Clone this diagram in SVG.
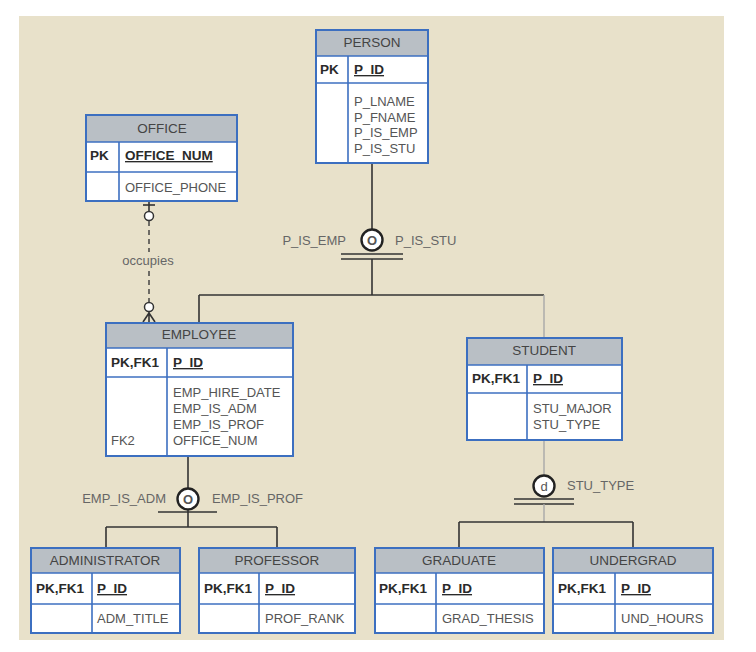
<svg xmlns="http://www.w3.org/2000/svg" width="756" height="652" viewBox="0 0 756 652">
<style>
.bg{fill:#e8e1ca}
.hdr{fill:#b9bfc5}
.body{fill:#ffffff}
.bd{fill:none;stroke:#3c6fc0;stroke-width:2}
.ln{fill:none;stroke:#3c6fc0;stroke-width:1.6}
text{font-family:"Liberation Sans",Arial,sans-serif;font-size:13px;fill:#555}
.ttl{fill:#444;text-anchor:middle;font-size:13.5px}
.k{font-weight:bold;fill:#2a2a2a;font-size:13.5px}
.u{text-decoration:underline}
.c{fill:none;stroke:#333;stroke-width:1.6}
.cl{fill:none;stroke:#a8a8a8;stroke-width:1.4}
.dash{fill:none;stroke:#444;stroke-width:1.5;stroke-dasharray:5 4}
.sym{fill:#fff;stroke:#222;stroke-width:2.4}
.lbl{fill:#666}
</style>
<rect class="bg" x="19" y="16" width="705" height="624"/>

<g id="connectors">
  <!-- OFFICE to EMPLOYEE -->
  <line class="c" x1="149" y1="201" x2="149" y2="211"/>
  <line class="c" x1="143" y1="205" x2="155" y2="205"/>
  <circle cx="149" cy="216" r="4.5" fill="#fff" stroke="#333" stroke-width="1.5"/>
  <line class="dash" x1="149" y1="221" x2="149" y2="252"/>
  <line class="dash" x1="149" y1="271" x2="149" y2="302"/>
  <text class="lbl" x="148" y="265" text-anchor="middle" font-size="11.5">occupies</text>
  <circle cx="149" cy="307" r="4.5" fill="#fff" stroke="#333" stroke-width="1.5"/>
  <path class="c" d="M149 312 L149 322 M149 313 L143 322 M149 313 L155 322"/>

  <!-- PERSON subtypes -->
  <line class="c" x1="372" y1="163" x2="372" y2="229"/>
  <circle class="sym" cx="372" cy="240" r="10.5"/>
  <text x="372" y="245" text-anchor="middle" font-size="14" font-weight="bold" fill="#222">O</text>
  <line class="c" x1="341" y1="254" x2="403" y2="254"/>
  <line class="c" x1="341" y1="259" x2="403" y2="259"/>
  <line class="c" x1="372" y1="259" x2="372" y2="295"/>
  <text class="lbl" x="346" y="245" text-anchor="end">P_IS_EMP</text>
  <text class="lbl" x="395" y="245">P_IS_STU</text>
  <line class="c" x1="199" y1="295" x2="544" y2="295"/>
  <line class="c" x1="199" y1="295" x2="199" y2="323"/>
  <line class="cl" x1="544" y1="295" x2="544" y2="338"/>

  <!-- EMPLOYEE subtypes -->
  <line class="c" x1="188" y1="456" x2="188" y2="488"/>
  <circle class="sym" cx="188" cy="499" r="10.5"/>
  <text x="188" y="504" text-anchor="middle" font-size="14" font-weight="bold" fill="#222">O</text>
  <line class="c" x1="158" y1="512" x2="217" y2="512"/>
  <line class="c" x1="188" y1="510" x2="188" y2="527"/>
  <line class="c" x1="106" y1="527" x2="277" y2="527"/>
  <line class="c" x1="106" y1="527" x2="106" y2="548"/>
  <line class="c" x1="277" y1="527" x2="277" y2="548"/>
  <text class="lbl" x="166" y="503" text-anchor="end">EMP_IS_ADM</text>
  <text class="lbl" x="212" y="503">EMP_IS_PROF</text>

  <!-- STUDENT subtypes -->
  <line class="cl" x1="544" y1="440" x2="544" y2="475"/>
  <circle class="sym" cx="544" cy="486" r="10.5"/>
  <text x="544" y="491" text-anchor="middle" font-size="14" fill="#222">d</text>
  <line class="c" x1="514" y1="499" x2="574" y2="499"/>
  <line class="c" x1="514" y1="504" x2="574" y2="504"/>
  <line class="cl" x1="544" y1="504" x2="544" y2="522"/>
  <line class="c" x1="459" y1="522" x2="633" y2="522"/>
  <line class="c" x1="459" y1="522" x2="459" y2="548"/>
  <line class="c" x1="633" y1="522" x2="633" y2="548"/>
  <text class="lbl" x="567" y="490">STU_TYPE</text>
</g>

<g id="person">
  <rect class="hdr" x="316" y="30" width="112" height="26"/>
  <rect class="body" x="316" y="56" width="112" height="107"/>
  <line class="ln" x1="316" y1="56" x2="428" y2="56"/>
  <line class="ln" x1="316" y1="83" x2="428" y2="83"/>
  <line class="ln" x1="348" y1="56" x2="348" y2="163"/>
  <rect class="bd" x="316" y="30" width="112" height="133"/>
  <text class="ttl" x="372" y="47">PERSON</text>
  <text class="k" x="320" y="74">PK</text>
  <text class="k u" x="354" y="74">P_ID</text>
  <text x="354" y="106">P_LNAME</text>
  <text x="354" y="122">P_FNAME</text>
  <text x="354" y="137">P_IS_EMP</text>
  <text x="354" y="153">P_IS_STU</text>
</g>

<g id="office">
  <rect class="hdr" x="86" y="115" width="151" height="27"/>
  <rect class="body" x="86" y="142" width="151" height="59"/>
  <line class="ln" x1="86" y1="142" x2="237" y2="142"/>
  <line class="ln" x1="86" y1="172" x2="237" y2="172"/>
  <line class="ln" x1="119" y1="142" x2="119" y2="201"/>
  <rect class="bd" x="86" y="115" width="151" height="86"/>
  <text class="ttl" x="162" y="133">OFFICE</text>
  <text class="k" x="90" y="160">PK</text>
  <text class="k u" x="125" y="160">OFFICE_NUM</text>
  <text x="125" y="192">OFFICE_PHONE</text>
</g>

<g id="employee">
  <rect class="hdr" x="106" y="323" width="187" height="25"/>
  <rect class="body" x="106" y="348" width="187" height="108"/>
  <line class="ln" x1="106" y1="348" x2="293" y2="348"/>
  <line class="ln" x1="106" y1="377" x2="293" y2="377"/>
  <line class="ln" x1="167" y1="348" x2="167" y2="456"/>
  <rect class="bd" x="106" y="323" width="187" height="133"/>
  <text class="ttl" x="199" y="339">EMPLOYEE</text>
  <text class="k" x="111" y="367">PK,FK1</text>
  <text class="k u" x="173" y="367">P_ID</text>
  <text x="173" y="397">EMP_HIRE_DATE</text>
  <text x="173" y="413">EMP_IS_ADM</text>
  <text x="173" y="429">EMP_IS_PROF</text>
  <text x="173" y="445">OFFICE_NUM</text>
  <text x="111" y="445">FK2</text>
</g>

<g id="student">
  <rect class="hdr" x="467" y="338" width="155" height="27"/>
  <rect class="body" x="467" y="365" width="155" height="75"/>
  <line class="ln" x1="467" y1="365" x2="622" y2="365"/>
  <line class="ln" x1="467" y1="393" x2="622" y2="393"/>
  <line class="ln" x1="527" y1="365" x2="527" y2="440"/>
  <rect class="bd" x="467" y="338" width="155" height="102"/>
  <text class="ttl" x="544" y="355">STUDENT</text>
  <text class="k" x="472" y="383">PK,FK1</text>
  <text class="k u" x="533" y="383">P_ID</text>
  <text x="533" y="413">STU_MAJOR</text>
  <text x="533" y="429">STU_TYPE</text>
</g>

<g id="administrator">
  <rect class="hdr" x="31" y="548" width="149" height="25"/>
  <rect class="body" x="31" y="573" width="149" height="60"/>
  <line class="ln" x1="31" y1="573" x2="180" y2="573"/>
  <line class="ln" x1="31" y1="604" x2="180" y2="604"/>
  <line class="ln" x1="92" y1="573" x2="92" y2="633"/>
  <rect class="bd" x="31" y="548" width="149" height="85"/>
  <text class="ttl" x="105" y="565">ADMINISTRATOR</text>
  <text class="k" x="36" y="593">PK,FK1</text>
  <text class="k u" x="97" y="593">P_ID</text>
  <text x="97" y="623">ADM_TITLE</text>
</g>

<g id="professor">
  <rect class="hdr" x="199" y="548" width="156" height="25"/>
  <rect class="body" x="199" y="573" width="156" height="60"/>
  <line class="ln" x1="199" y1="573" x2="355" y2="573"/>
  <line class="ln" x1="199" y1="604" x2="355" y2="604"/>
  <line class="ln" x1="259" y1="573" x2="259" y2="633"/>
  <rect class="bd" x="199" y="548" width="156" height="85"/>
  <text class="ttl" x="277" y="565">PROFESSOR</text>
  <text class="k" x="204" y="593">PK,FK1</text>
  <text class="k u" x="265" y="593">P_ID</text>
  <text x="265" y="623">PROF_RANK</text>
</g>

<g id="graduate">
  <rect class="hdr" x="375" y="548" width="169" height="25"/>
  <rect class="body" x="375" y="573" width="169" height="60"/>
  <line class="ln" x1="375" y1="573" x2="544" y2="573"/>
  <line class="ln" x1="375" y1="604" x2="544" y2="604"/>
  <line class="ln" x1="436" y1="573" x2="436" y2="633"/>
  <rect class="bd" x="375" y="548" width="169" height="85"/>
  <text class="ttl" x="459" y="565">GRADUATE</text>
  <text class="k" x="379" y="593">PK,FK1</text>
  <text class="k u" x="442" y="593">P_ID</text>
  <text x="442" y="623">GRAD_THESIS</text>
</g>

<g id="undergrad">
  <rect class="hdr" x="553" y="548" width="160" height="25"/>
  <rect class="body" x="553" y="573" width="160" height="60"/>
  <line class="ln" x1="553" y1="573" x2="713" y2="573"/>
  <line class="ln" x1="553" y1="604" x2="713" y2="604"/>
  <line class="ln" x1="615" y1="573" x2="615" y2="633"/>
  <rect class="bd" x="553" y="548" width="160" height="85"/>
  <text class="ttl" x="633" y="565">UNDERGRAD</text>
  <text class="k" x="558" y="593">PK,FK1</text>
  <text class="k u" x="621" y="593">P_ID</text>
  <text x="621" y="623">UND_HOURS</text>
</g>
</svg>
